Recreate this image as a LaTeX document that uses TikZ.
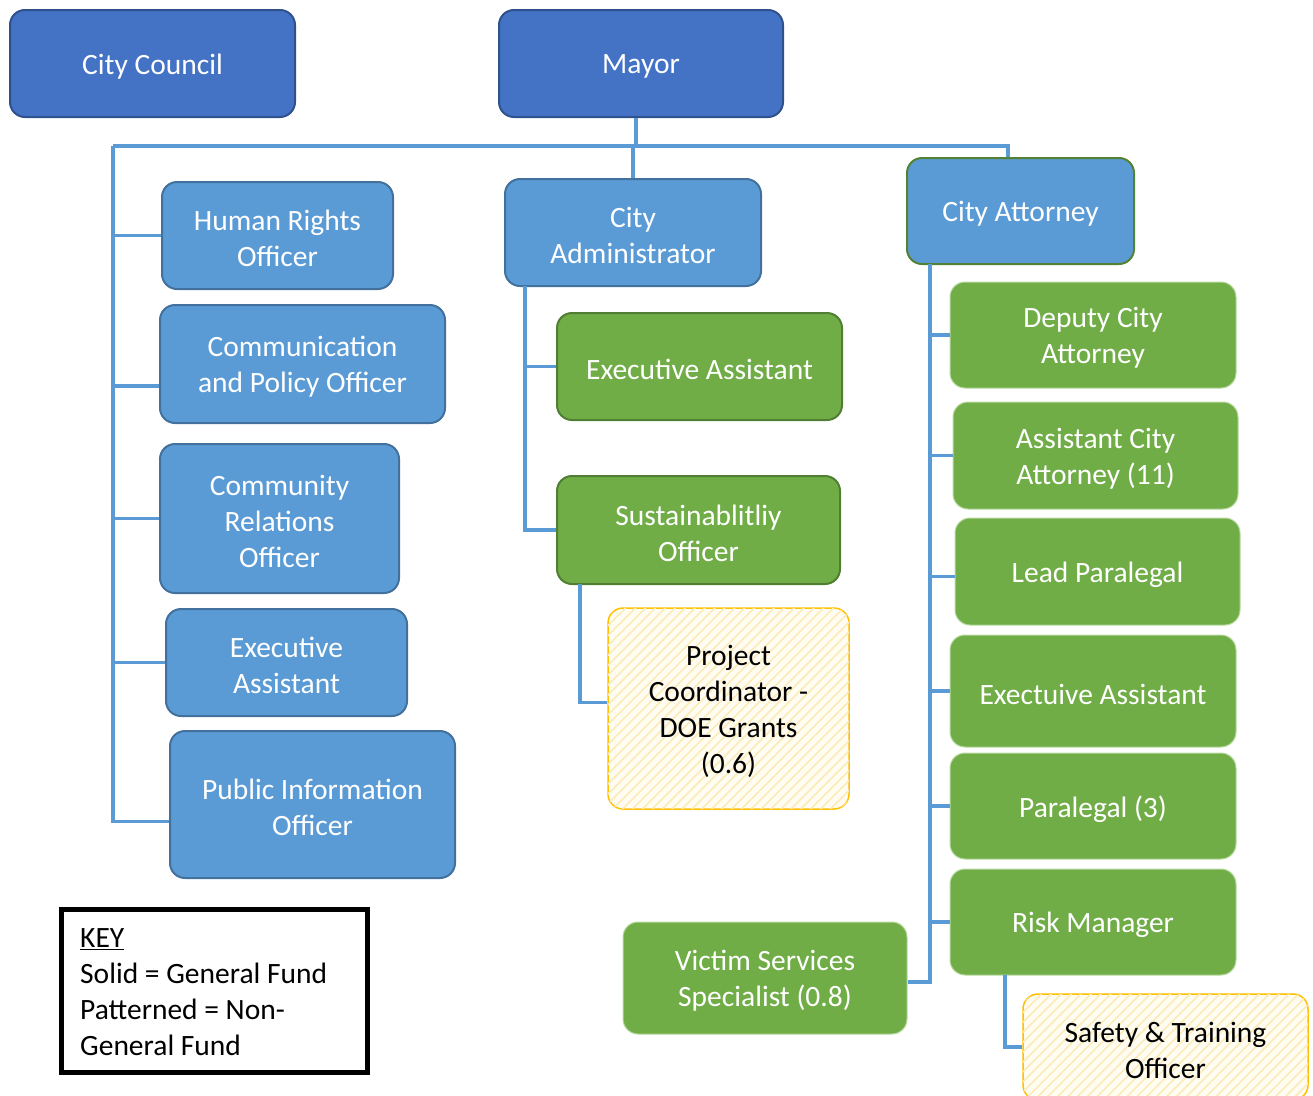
\documentclass[tikz,border=0pt]{standalone}
\usepackage{fontspec}
\setmainfont{Carlito}
\usetikzlibrary{patterns.meta}
\definecolor{dkblue}{HTML}{4472C4}
\definecolor{dkblueline}{HTML}{2F528F}
\definecolor{ltblue}{HTML}{5B9BD5}
\definecolor{ltblueline}{HTML}{41719C}
\definecolor{grn}{HTML}{70AD47}
\definecolor{grnline}{HTML}{507E32}
\definecolor{grnfaint}{HTML}{B9D9A0}
\definecolor{attline}{HTML}{548235}
\definecolor{yelline}{HTML}{FFC000}
\definecolor{yelfill}{HTML}{FFFCF2}
\definecolor{yelstripe}{HTML}{FCEBB8}
\definecolor{conncol}{HTML}{5B9BD5}
\tikzset{
  box/.style={rectangle, rounded corners=15pt, inner sep=0pt, line width=2pt},
  boxtext/.style={inner sep=0pt, align=center, font=\fontsize{29.5}{36}\selectfont},
  topbox/.style={box, fill=dkblue, draw=dkblueline},
  bluebox/.style={box, fill=ltblue, draw=ltblueline},
  greenbox/.style={box, fill=grn, draw=grnline},
  greenlite/.style={box, fill=grn, draw=grnfaint, line width=1pt},
  attbox/.style={box, fill=ltblue, draw=attline},
  patbox/.style={box, fill=yelfill, draw=yelline, line width=1.5pt,
    postaction={pattern={Lines[angle=45,distance=7pt,line width=1.6pt]}, pattern color=yelstripe}},
  conn/.style={draw=conncol, line width=3.5pt},
  sz/.style 2 args={minimum width=#1pt, minimum height=#2pt}
}
% \obox{style}{name}{cx}{cy}{w}{h}{text colour}{text}
\newcommand\obox[8]{%
  \node[#1, sz={#5}{#6}] (#2) at (#3,#4) {};
  \node[boxtext, text=#7] (#2-t) at ([yshift=-3pt]#2.center) {#8};
}
\begin{document}
\begin{tikzpicture}[x=1pt,y=-1pt]
\useasboundingbox (0,0) rectangle (1313,1095);
% top
\obox{topbox}{cc}{152.5}{63.5}{285}{107}{white}{City Council}
\obox{topbox}{mayor}{641}{63.5}{284}{107}{white}{Mayor}
% left column
\obox{bluebox}{hr}{277.5}{235.5}{231}{107}{white}{Human Rights\\Officer}
\obox{bluebox}{comm}{302.5}{364}{285}{118}{white}{Communication\\and Policy Officer}
\obox{bluebox}{crel}{279.5}{518.5}{239}{149}{white}{Community\\Relations\\Officer}
\obox{bluebox}{ea1}{286.5}{662.5}{241}{107}{white}{Executive\\Assistant}
\obox{bluebox}{pio}{312.5}{804.5}{285}{147}{white}{Public Information\\Officer}
% middle column
\obox{bluebox}{cadm}{633}{232.5}{256}{107}{white}{City\\Administrator}
\obox{greenbox}{ea2}{699.5}{366.5}{285}{107}{white}{Executive Assistant}
\obox{greenbox}{sust}{698.5}{530}{283}{108}{white}{Sustainablitliy\\Officer}
\obox{patbox}{proj}{728.5}{708.5}{241}{201}{black}{Project\\Coordinator -\\DOE Grants\\(0.6)}
% right column
\obox{attbox}{catt}{1020.5}{211}{227}{106}{white}{City Attorney}
\obox{greenlite}{dep}{1093}{335}{286}{106}{white}{Deputy City\\Attorney}
\obox{greenlite}{asst}{1095.5}{455.5}{285}{107}{white}{Assistant City\\Attorney (11)}
\obox{greenlite}{lead}{1097.5}{571.5}{285}{107}{white}{Lead Paralegal}
\obox{greenlite}{ea3}{1093}{691}{286}{112}{white}{Exectuive Assistant}
\obox{greenlite}{para}{1093}{806}{286}{106}{white}{Paralegal (3)}
\obox{greenlite}{risk}{1093}{922}{286}{106}{white}{Risk Manager}
\obox{greenlite}{vic}{765}{978}{284}{112}{white}{Victim Services\\Specialist (0.8)}
\obox{patbox}{saf}{1165.5}{1047}{285}{106}{black}{Safety \& Training\\Officer}
% key
\node[draw=black, line width=5pt, rectangle, inner sep=0pt, minimum width=306pt, minimum height=163pt] (keybox) at (214,990.5) {};
\node[anchor=west, align=left, inner sep=0pt, font=\fontsize{29.5}{36}\selectfont, text=black] (keytext) at (80,992)
  {\underline{KEY}\\Solid = General Fund\\Patterned = Non-\\General Fund};
% connectors
\coordinate (busL) at (113,146);
\coordinate (busR) at (1008,146);
\coordinate (myB) at ([xshift=-5pt]mayor.south);
\draw[conn] (myB) -- (myB |- busL);
\draw[conn] (cadm.north) -- (cadm.north |- busL);
\draw[conn] (busL) -- (busR) -- (busR |- catt.north);
\coordinate (pioW) at ([yshift=-17pt]pio.west);
\coordinate (commW) at ([yshift=-22pt]comm.west);
\draw[conn] (busL) -- (busL |- pioW) -- (pioW);
\draw[conn] (busL |- hr.west) -- (hr.west);
\draw[conn] (busL |- commW) -- (commW);
\draw[conn] (busL |- crel.west) -- (crel.west);
\draw[conn] (busL |- ea1.west) -- (ea1.west);
\coordinate (caT) at (525,286);
\draw[conn] (caT) -- (caT |- sust.west) -- (sust.west);
\draw[conn] (caT |- ea2.west) -- (ea2.west);
\coordinate (suT) at (580,584);
\coordinate (projW) at ([yshift=6pt]proj.west);
\draw[conn] (suT) -- (suT |- projW) -- (projW);
\coordinate (atT) at (930,264);
\coordinate (vicE) at ([yshift=-4pt]vic.east);
\coordinate (leadW) at ([yshift=-5pt]lead.west);
\draw[conn] (atT) -- (atT |- vicE) -- (vicE);
\draw[conn] (atT |- dep.west) -- (dep.west);
\draw[conn] (atT |- asst.west) -- (asst.west);
\draw[conn] (atT |- leadW) -- (leadW);
\draw[conn] (atT |- ea3.west) -- (ea3.west);
\draw[conn] (atT |- para.west) -- (para.west);
\draw[conn] (atT |- risk.west) -- (risk.west);
\coordinate (rkT) at (1005,975);
\draw[conn] (rkT) -- (rkT |- saf.west) -- (saf.west);
\end{tikzpicture}
\end{document}
